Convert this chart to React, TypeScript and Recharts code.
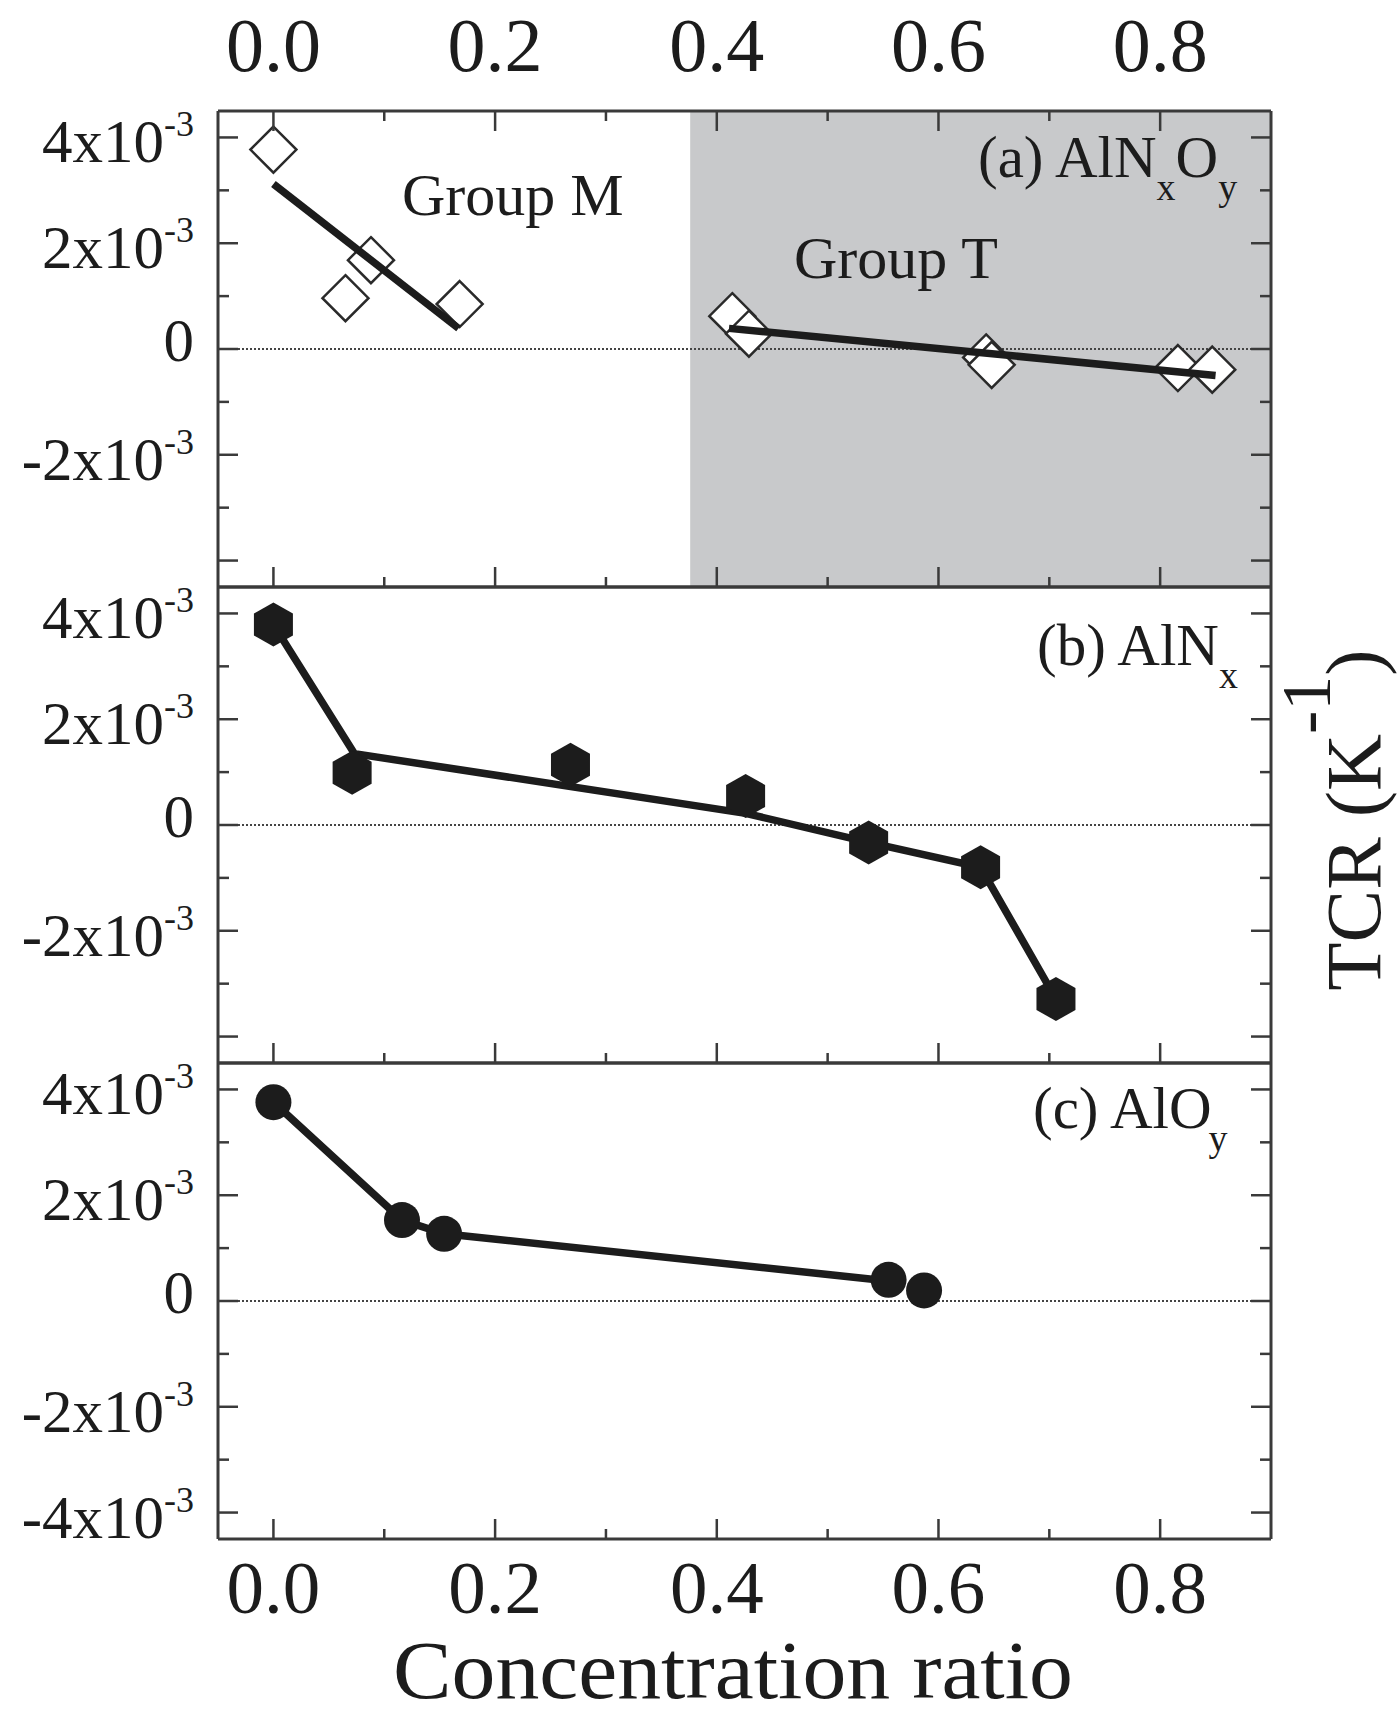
import { ComposedChart, Scatter, XAxis, YAxis, ReferenceLine, ReferenceArea } from 'recharts';

const FONT = '"Liberation Serif", "Times New Roman", serif';
const INK = '#1c1c1c';
const FRAME = '#3a3a3a';

// axes
const xTicks = [0, 0.1, 0.2, 0.3, 0.4, 0.5, 0.6, 0.7, 0.8];
const yTicks = [-0.004, -0.003, -0.002, -0.001, 0, 0.001, 0.002, 0.003, 0.004];
const X_DOMAIN: [number, number] = [-0.05, 0.9];
const Y_DOMAIN: [number, number] = [-0.0045, 0.0045];

// (a) AlNxOy - group M (open diamonds + fit)
const mX = [0.0, 0.065, 0.088, 0.168];
const mY = [3.77e-3, 0.96e-3, 1.68e-3, 0.85e-3];
const mFitX = [0.0, 0.167];
const mFitY = [3.12e-3, 0.39e-3];
// (a) AlNxOy - group T
const tX = [0.414, 0.429, 0.643, 0.648, 0.816, 0.847];
const tY = [0.62e-3, 0.29e-3, -0.16e-3, -0.3e-3, -0.36e-3, -0.39e-3];
const tFitX = [0.411, 0.85];
const tFitY = [0.39e-3, -0.5e-3];
const groupTStart = 0.376;

// (b) AlNx
const nX = [0.0, 0.071, 0.268, 0.426, 0.537, 0.638, 0.706];
const nY = [3.79e-3, 0.99e-3, 1.14e-3, 0.55e-3, -0.33e-3, -0.8e-3, -3.29e-3];
const nFitX = [0.0, 0.073, 0.426, 0.537, 0.638, 0.706];
const nFitY = [3.79e-3, 1.35e-3, 0.22e-3, -0.33e-3, -0.8e-3, -3.29e-3];

// (c) AlOy
const oX = [0.0, 0.116, 0.154, 0.555, 0.587];
const oY = [3.76e-3, 1.53e-3, 1.27e-3, 0.4e-3, 0.2e-3];
const oFitX = [0.0, 0.116, 0.154, 0.555];
const oFitY = [3.76e-3, 1.53e-3, 1.27e-3, 0.38e-3];

// layout (page pixels)
const W = 1399;
const H = 1717;
const PLOT_L = 218;
const PLOT_R = 1271;
const PANEL_H = 476;
const PANEL_TOPS = [111, 587, 1063];
const AX = 10;

const pts = (xs: number[], ys: number[]) => xs.map((x, i) => ({ x, y: ys[i] }));

const isMajorX = (v: number) => Math.round(v * 10) % 2 === 0;

const Diamond = (p: any) => {
	const r = 23;
	return (
		<polygon
			points={`${p.cx},${p.cy - r} ${p.cx + r},${p.cy} ${p.cx},${p.cy + r} ${p.cx - r},${p.cy}`}
			fill="#fff"
			stroke="#2a2a2a"
			strokeWidth={2.5}
		/>
	);
};

const Hexagon = (p: any) => {
	const w = 19.5;
	const h = 22;
	const { cx, cy } = p;
	return (
		<polygon
			points={`${cx},${cy - h} ${cx + w},${cy - h / 2} ${cx + w},${cy + h / 2} ${cx},${cy + h} ${cx - w},${cy + h / 2} ${cx - w},${cy - h / 2}`}
			fill={INK}
		/>
	);
};

const Dot = (p: any) => <circle cx={p.cx} cy={p.cy} r={18} fill={INK} />;

const NoMark = () => <g />;

// bottom edge ticks; the first panel also carries the top edge ticks and labels
function BottomTick({ x, y, payload, labels, top }: any) {
	const major = isMajorX(payload.value);
	const len = major ? 20 : 10;
	const yTop = y - PANEL_H;
	return (
		<g>
			<line x1={x} x2={x} y1={y} y2={y - len} stroke={FRAME} strokeWidth={2.5} />
			{labels && major && (
				<text x={x} y={y + 74} textAnchor="middle" fontFamily={FONT} fontSize={75} fill={INK}>
					{payload.value.toFixed(1)}
				</text>
			)}
			{top && <line x1={x} x2={x} y1={yTop} y2={yTop + len} stroke={FRAME} strokeWidth={2.5} />}
			{top && major && (
				<text x={x} y={yTop - 40} textAnchor="middle" fontFamily={FONT} fontSize={76} fill={INK}>
					{payload.value.toFixed(1)}
				</text>
			)}
		</g>
	);
}

function LeftTick({ x, y, payload, showMin }: any) {
	const v = Math.round(payload.value * 1000);
	const major = v % 2 === 0;
	const labelled = major && (showMin || v > -4);
	return (
		<g>
			<line x1={x} x2={x + (major ? 20 : 11)} y1={y} y2={y} stroke={FRAME} strokeWidth={2.5} />
			{labelled && v === 0 && (
				<text x={x - 24} y={y + 12} textAnchor="end" fontFamily={FONT} fontSize={61} fill={INK}>
					0
				</text>
			)}
			{labelled && v !== 0 && (
				<text x={x - 24} y={y + 25} textAnchor="end" fontFamily={FONT} fontSize={61} fill={INK}>
					{`${v}x10`}
					<tspan dy={-26} fontSize={36}>
						-3
					</tspan>
				</text>
			)}
		</g>
	);
}

function RightTick({ x, y, payload }: any) {
	const v = Math.round(payload.value * 1000);
	const major = v % 2 === 0;
	return <line x1={x} x2={x - (major ? 20 : 11)} y1={y} y2={y} stroke={FRAME} strokeWidth={2.5} />;
}

const frame = { stroke: FRAME, strokeWidth: 3 };

function Panel({ top, first, last, children }: any) {
	return (
		<div style={{ position: 'absolute', left: 0, top: top - AX }}>
			<ComposedChart
				width={W}
				height={PANEL_H + 2 * AX}
				margin={{ top: 0, right: W - PLOT_R - AX, bottom: 0, left: PLOT_L - AX }}
			>
				{first && (
					<ReferenceArea
						xAxisId="b"
						yAxisId="l"
						x1={groupTStart}
						x2={X_DOMAIN[1]}
						fill="#c8c9cb"
						fillOpacity={1}
						stroke="none"
					/>
				)}
				<ReferenceLine
					xAxisId="b"
					yAxisId="l"
					y={0}
					stroke="#444"
					strokeWidth={2}
					strokeDasharray="2 2"
				/>
				<XAxis
					xAxisId="b"
					type="number"
					dataKey="x"
					orientation="bottom"
					domain={X_DOMAIN}
					ticks={xTicks}
					interval={0}
					height={AX}
					tickSize={0}
					tickMargin={0}
					tickLine={false}
					axisLine={frame}
					allowDataOverflow
					tick={(p: any) => <BottomTick {...p} labels={last} top={first} />}
				/>
				<XAxis
					xAxisId="t"
					type="number"
					orientation="top"
					domain={X_DOMAIN}
					ticks={xTicks}
					height={AX}
					tickLine={false}
					axisLine={frame}
					allowDataOverflow
					tick={false}
				/>
				<YAxis
					yAxisId="l"
					type="number"
					dataKey="y"
					orientation="left"
					domain={Y_DOMAIN}
					ticks={yTicks}
					interval={0}
					width={AX}
					tickSize={0}
					tickMargin={0}
					tickLine={false}
					axisLine={frame}
					allowDataOverflow
					tick={(p: any) => <LeftTick {...p} showMin={last} />}
				/>
				<YAxis
					yAxisId="r"
					type="number"
					orientation="right"
					domain={Y_DOMAIN}
					ticks={yTicks}
					interval={0}
					width={AX}
					tickSize={0}
					tickMargin={0}
					tickLine={false}
					axisLine={frame}
					allowDataOverflow
					tick={(p: any) => <RightTick {...p} />}
				/>
				{children}
			</ComposedChart>
		</div>
	);
}

const fitLine = { stroke: INK, strokeWidth: 7.5 };

export default function App() {
	return (
		<div style={{ position: 'absolute', left: 0, top: 0, width: W, height: H, background: '#fff' }}>
			<style>{`.recharts-surface { overflow: visible; }`}</style>

			<Panel top={PANEL_TOPS[0]} first>
				<Scatter xAxisId="b" yAxisId="l" data={pts(mX, mY)} shape={Diamond} isAnimationActive={false} />
				<Scatter xAxisId="b" yAxisId="l" data={pts(tX, tY)} shape={Diamond} isAnimationActive={false} />
				<Scatter xAxisId="b" yAxisId="l" data={pts(mFitX, mFitY)} line={fitLine} shape={NoMark} isAnimationActive={false} />
				<Scatter xAxisId="b" yAxisId="l" data={pts(tFitX, tFitY)} line={fitLine} shape={NoMark} isAnimationActive={false} />
			</Panel>

			<Panel top={PANEL_TOPS[1]}>
				<Scatter xAxisId="b" yAxisId="l" data={pts(nFitX, nFitY)} line={fitLine} shape={NoMark} isAnimationActive={false} />
				<Scatter xAxisId="b" yAxisId="l" data={pts(nX, nY)} shape={Hexagon} isAnimationActive={false} />
			</Panel>

			<Panel top={PANEL_TOPS[2]} last>
				<Scatter xAxisId="b" yAxisId="l" data={pts(oFitX, oFitY)} line={fitLine} shape={NoMark} isAnimationActive={false} />
				<Scatter xAxisId="b" yAxisId="l" data={pts(oX, oY)} shape={Dot} isAnimationActive={false} />
			</Panel>

			{/* annotations and axis titles */}
			<svg
				width={W}
				height={H}
				style={{ position: 'absolute', left: 0, top: 0, pointerEvents: 'none' }}
				fontFamily={FONT}
				fill={INK}
			>
				<text x={402} y={215} fontSize={60}>Group M</text>
				<text x={794} y={278} fontSize={60}>Group T</text>

				<text x={978} y={177} fontSize={59}>
					(a) AlN
					<tspan dy={23} fontSize={38}>x</tspan>
					<tspan dy={-23}>O</tspan>
					<tspan dy={23} fontSize={38}>y</tspan>
				</text>
				<text x={1037} y={665} fontSize={59}>
					(b) AlN
					<tspan dy={23} fontSize={38}>x</tspan>
				</text>
				<text x={1033} y={1128} fontSize={59}>
					(c) AlO
					<tspan dy={23} dx={-3} fontSize={38}>y</tspan>
				</text>

				<text x={393} y={1698} fontSize={83} textLength={680} lengthAdjust="spacingAndGlyphs">
					Concentration ratio
				</text>

				<text transform="translate(1380, 820) rotate(-90)" textAnchor="middle" fontSize={79}>
					TCR (K
					<tspan dy={-50} fontSize={70}>-1</tspan>
					<tspan dy={50}>)</tspan>
				</text>
			</svg>
		</div>
	);
}
